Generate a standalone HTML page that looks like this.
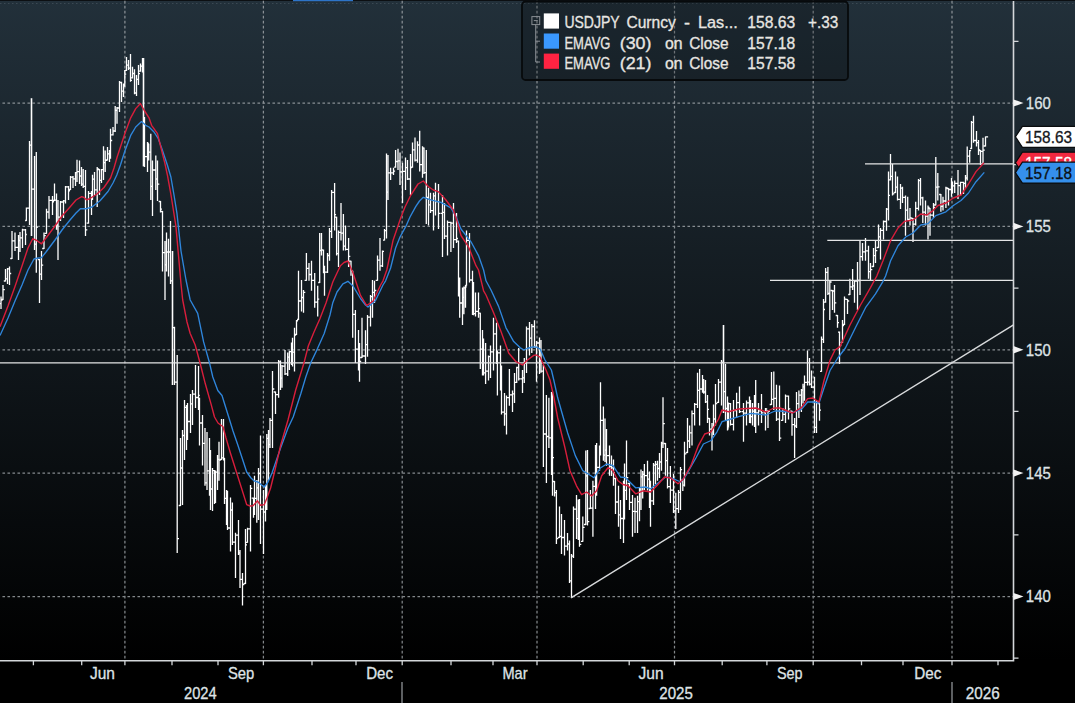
<!DOCTYPE html><html><head><meta charset="utf-8"><title>USDJPY</title>
<style>html,body{margin:0;padding:0;background:#000;overflow:hidden}svg{display:block}text{font-family:"Liberation Sans",sans-serif;stroke-width:0.3px;}</style></head><body>
<svg width="1075" height="703" viewBox="0 0 1075 703">
<defs><linearGradient id="bg" x1="0" y1="0" x2="0" y2="1"><stop offset="0" stop-color="#22303a"/><stop offset="0.94" stop-color="#000000"/><stop offset="1" stop-color="#000"/></linearGradient></defs>
<rect x="0" y="0" width="1075" height="703" fill="url(#bg)"/>
<rect x="0" y="660.8" width="1075" height="42.200000000000045" fill="#000"/>
<rect x="0" y="0" width="1075" height="1" fill="#0c0f12"/>
<rect x="293" y="0" width="60" height="1.2" fill="#2d74c8"/>
<path d="M0 3.5H1075" stroke="#5a6872" stroke-width="1" stroke-dasharray="1.5 2.5" opacity="0.45"/>
<g stroke="#a4a9ad" stroke-width="1.25" stroke-dasharray="2.6 2.4" fill="none" opacity="0.8">
<path d="M124.9 0.8V660.8"/>
<path d="M263.4 0.8V660.8"/>
<path d="M402.2 0.8V660.8"/>
<path d="M537.0 0.8V660.8"/>
<path d="M674.5 0.8V660.8"/>
<path d="M813.2 0.8V660.8"/>
<path d="M952.0 0.8V660.8"/>
<path d="M-2.55 103.0H1013.5"/>
<path d="M-2.55 226.4H1013.5"/>
<path d="M-2.55 349.8H1013.5"/>
<path d="M-2.55 473.1H1013.5"/>
<path d="M-2.55 596.5H1013.5"/>
</g>
<g stroke="#ffffff" stroke-width="1.3" fill="none">
<path d="M31.5 98.2V236.0" stroke-width="1.6"/>
<path d="M143.5 58.0V166.4" stroke-width="1.6"/>
<path d="M172.5 251.0V385.0" stroke-width="1.6"/>
<path d="M723.5 325.0V413.0" stroke-width="1.6"/>
<path d="M1.0 296.6V309.0M-0.6 303.7H1.0M1.0 300.0H2.5M3.0 285.0V300.0M1.5 299.5H3.0M3.0 289.6H4.8M5.5 269.0V281.5M3.8 281.0H5.5M5.5 278.9H7.0M7.5 268.0V284.0M6.0 278.9H7.5M7.5 268.8H9.0M9.5 266.5V285.0M8.0 268.8H9.5M9.5 273.5H11.2M12.0 231.0V259.0M10.2 258.5H12.0M12.0 240.8H13.8M15.0 232.5V251.0M13.2 240.8H15.0M15.0 247.3H16.8M18.5 235.0V260.0M16.7 247.3H18.5M18.5 240.5H19.8M20.0 232.0V252.0M18.7 240.5H20.0M20.0 237.9H21.8M22.5 228.8V248.0M20.8 237.9H22.5M22.5 229.8H24.3M25.5 229.0V245.0M23.7 229.8H25.5M25.5 234.5H26.8M26.4 207.4V221.0M25.1 220.5H26.4M26.4 208.1H28.2M29.5 141.0V225.0M27.7 208.1H29.5M29.5 145.2H31.0M30.0 145.2H31.5M31.5 189.1H33.3M34.5 156.0V250.0M32.7 189.1H34.5M34.5 244.1H35.9M36.3 152.0V272.7M34.9 244.1H36.3M36.3 227.2H38.1M39.5 259.0V303.0M37.7 259.5H39.5M39.5 274.1H41.0M41.5 251.0V280.0M40.0 274.1H41.5M41.5 265.1H43.2M44.0 232.5V249.0M42.2 248.5H44.0M44.0 235.7H45.8M46.5 208.7V233.8M44.8 233.3H46.5M46.5 212.0H48.2M49.0 196.0V218.7M47.2 212.0H49.0M49.0 200.3H50.8M52.5 196.0V215.0M50.7 200.3H52.5M52.5 201.9H54.0M54.5 183.5V201.0M53.0 200.5H54.5M54.5 200.1H56.0M56.5 193.4V229.7M55.0 200.1H56.5M56.5 225.0H57.8M58.0 200.0V260.0M56.7 225.0H58.0M58.0 217.1H59.8M60.5 201.0V221.0M58.8 217.1H60.5M60.5 202.0H62.3M63.5 200.0V218.0M61.7 202.0H63.5M63.5 200.9H65.0M65.5 186.0V203.6M64.0 200.9H65.5M65.5 186.9H67.3M68.5 186.0V200.0M66.7 186.9H68.5M68.5 190.8H70.0M70.5 176.0V190.0M69.0 189.5H70.5M70.5 177.2H72.2M73.0 176.0V188.0M71.2 177.2H73.0M73.0 178.9H74.8M75.5 172.0V186.0M73.8 178.9H75.5M75.5 172.7H76.8M77.0 159.7V182.0M75.7 172.7H77.0M77.0 171.7H78.8M79.5 160.5V184.0M77.8 171.7H79.5M79.5 176.0H81.0M81.5 167.0V186.0M80.0 176.0H81.5M81.5 184.2H82.9M83.2 169.0V188.0M81.8 184.2H83.2M83.2 186.4H84.9M85.5 170.0V236.0M83.8 186.4H85.5M85.5 229.8H87.3M88.5 191.0V223.7M86.7 223.2H88.5M88.5 193.4H90.3M91.5 191.0V215.0M89.7 193.4H91.5M91.5 196.0H92.8M92.5 174.7V200.0M91.2 196.0H92.5M92.5 179.2H94.0M94.5 172.0V195.0M93.0 179.2H94.5M94.5 189.9H96.3M97.2 167.0V207.0M95.4 189.9H97.2M97.2 169.0H98.9M99.5 169.0V195.0M97.8 169.5H99.5M99.5 180.3H101.0M101.5 169.0V183.0M100.0 180.3H101.5M101.5 169.7H103.0M103.5 146.3V180.0M102.0 169.7H103.5M103.5 162.7H104.9M105.2 150.5V172.0M103.8 162.7H105.2M105.2 160.4H106.9M107.5 147.0V160.5M105.8 160.0H107.5M107.5 153.9H109.0M109.5 150.0V162.0M108.0 153.9H109.5M109.5 152.1H110.8M110.5 128.7V158.8M109.2 152.1H110.5M110.5 140.5H112.2M113.0 127.0V135.4M111.2 134.9H113.0M113.0 131.0H114.6M115.2 106.0V132.0M113.6 131.0H115.2M115.2 110.4H116.6M117.0 107.0V123.7M115.6 110.4H117.0M117.0 108.0H118.8M119.5 81.0V112.0M117.8 108.0H119.5M119.5 82.5H121.0M121.5 81.8V101.9M120.0 82.5H121.5M121.5 91.2H123.0M123.5 83.5V96.9M122.0 91.2H123.5M123.5 84.2H124.8M124.8 70.0V86.8M123.5 84.2H124.8M124.8 74.2H126.2M126.5 57.0V70.9M125.1 70.4H126.5M126.5 65.1H128.0M128.5 60.0V70.0M127.0 65.1H128.5M128.5 68.1H130.0M130.5 54.0V81.8M129.0 68.1H130.5M130.5 80.4H132.0M132.5 66.7V78.4M131.0 77.9H132.5M132.5 73.5H134.0M134.5 69.2V94.3M133.0 73.5H134.5M134.5 93.0H136.0M136.5 75.0V96.0M135.0 93.0H136.5M136.5 79.3H138.0M138.5 65.0V85.0M137.0 79.3H138.5M138.5 73.6H140.0M140.5 63.4V71.7M139.0 71.2H140.5M140.5 66.1H142.0M142.5 58.0V72.6M141.0 66.1H142.5M142.5 67.3H143.8M142.2 67.3H143.5M143.5 161.0H144.8M144.5 117.0V167.0M143.2 161.0H144.5M144.5 156.6H146.3M147.5 142.0V172.0M145.7 156.6H147.5M147.5 143.5H148.8M148.7 143.8V160.5M147.4 144.3H148.7M148.7 152.2H150.2M150.8 133.7V200.0M149.2 152.2H150.8M150.8 186.4H152.2M152.5 160.5V216.0M151.2 186.4H152.5M152.5 170.0H154.3M155.8 155.5V190.0M154.0 170.0H155.8M155.8 179.0H157.2M157.5 160.5V201.0M156.2 179.0H157.5M157.5 184.2H159.3M160.5 201.0V212.4M158.7 201.5H160.5M160.5 209.1H162.0M162.5 211.0V271.5M161.0 211.5H162.5M162.5 252.7H164.2M165.0 241.0V300.0M163.2 252.7H165.0M165.0 264.8H166.3M166.5 232.5V271.5M165.2 264.8H166.5M166.5 252.0H168.0M168.5 238.8V276.5M167.0 252.0H168.5M168.5 252.0H170.0M170.5 221.0V284.0M169.0 252.0H170.5M170.5 280.9H172.0M171.0 280.9H172.5M172.5 327.7H174.0M174.5 326.8V385.0M173.0 327.7H174.5M174.5 382.1H176.3M177.2 355.0V552.9M175.4 382.1H177.2M177.2 538.6H179.0M180.5 438.0V506.0M178.7 505.5H180.5M180.5 468.0H182.0M182.5 430.0V505.0M181.0 468.0H182.5M182.5 435.5H184.0M184.5 400.0V460.0M183.0 435.5H184.5M184.5 407.4H186.0M186.5 405.0V450.0M185.0 407.4H186.5M186.5 411.1H187.8M187.5 403.0V440.0M186.2 411.1H187.5M187.5 421.5H189.3M190.5 394.0V433.0M188.7 421.5H190.5M190.5 403.9H192.0M192.5 390.0V425.0M191.0 403.9H192.5M192.5 394.1H194.3M195.5 365.0V408.0M193.7 394.1H195.5M195.5 397.5H197.3M198.5 366.0V410.0M196.7 397.5H198.5M198.5 395.3H199.8M199.5 397.8V445.5M198.2 398.3H199.5M199.5 423.0H201.3M202.5 415.0V465.6M200.7 423.0H202.5M202.5 443.4H204.2M205.0 428.0V485.7M203.2 443.4H205.0M205.0 482.8H206.5M207.0 432.0V490.0M205.5 482.8H207.0M207.0 470.9H208.8M209.5 438.0V495.8M207.8 470.9H209.5M209.5 492.9H210.8M210.5 450.0V510.0M209.2 492.9H210.5M210.5 489.0H212.0M212.5 468.0V511.0M211.0 489.0H212.5M212.5 470.6H214.0M214.5 470.0V504.0M213.0 470.6H214.5M214.5 477.0H215.8M215.5 470.6V503.0M214.2 477.0H215.5M215.5 472.2H217.0M217.5 455.0V490.0M216.0 472.2H217.5M217.5 459.3H218.8M219.0 441.8V480.7M217.7 459.3H219.0M219.0 460.2H220.8M221.5 419.0V460.0M219.8 459.5H221.5M221.5 457.9H223.0M223.5 419.0V460.6M222.0 457.9H223.5M223.5 458.5H224.8M224.5 458.0V504.0M223.2 458.5H224.5M224.5 498.4H226.0M226.5 490.0V525.0M225.0 498.4H226.5M226.5 523.2H227.8M227.5 490.8V530.0M226.2 523.2H227.5M227.5 528.0H229.3M230.5 497.6V551.6M228.7 528.0H230.5M230.5 510.0H232.0M232.4 502.6V545.0M230.9 510.0H232.4M232.4 542.1H234.2M235.5 532.8V578.0M233.7 542.1H235.5M235.5 535.1H237.3M238.5 520.0V555.0M236.7 535.1H238.5M238.5 552.9H239.8M240.0 550.0V588.0M238.7 552.9H240.0M240.0 579.3H241.8M242.5 573.0V605.6M240.8 579.3H242.5M242.5 584.5H244.3M245.5 529.0V584.0M243.7 583.5H245.5M245.5 544.8H247.0M247.5 527.7V542.8M246.0 542.3H247.5M247.5 528.8H249.3M250.5 485.0V551.6M248.7 528.8H250.5M250.5 488.3H252.3M253.5 497.6V517.7M251.7 498.1H253.5M253.5 506.8H254.8M254.5 475.7V515.0M253.2 506.8H254.5M254.5 498.4H256.1M256.8 480.0V522.7M255.2 498.4H256.8M256.8 487.8H258.1M258.5 468.0V520.0M257.2 487.8H258.5M258.5 473.5H260.0M260.5 435.5V544.0M259.0 473.5H260.5M260.5 509.1H262.3M263.5 490.0V554.0M261.7 509.1H263.5M263.5 512.0H265.0M265.5 485.0V521.5M264.0 512.0H265.5M265.5 502.7H266.8M266.8 434.0V510.0M265.5 502.7H266.8M266.8 438.3H268.1M268.5 430.0V480.0M267.2 438.3H268.5M268.5 444.7H269.8M270.0 418.0V448.0M268.7 444.7H270.0M270.0 420.4H271.8M272.5 371.0V448.0M270.8 420.4H272.5M272.5 389.0H274.3M275.5 391.5V414.0M273.7 392.0H275.5M275.5 394.6H277.3M278.6 360.0V397.8M276.8 394.6H278.6M278.6 361.9H280.1M280.5 360.5V390.0M279.1 361.9H280.5M280.5 378.1H281.8M282.0 365.0V387.7M280.7 378.1H282.0M282.0 366.1H283.8M285.0 350.0V375.0M283.2 366.1H285.0M285.0 373.8H286.8M287.7 352.5V376.0M285.9 373.8H287.7M287.7 357.2H289.0M289.4 350.8V370.1M288.0 357.2H289.4M289.4 351.7H290.9M291.5 342.5V365.0M289.9 351.7H291.5M291.5 352.5H292.8M292.5 337.8V366.5M291.2 352.5H292.5M292.5 352.1H294.0M294.5 327.8V371.6M293.0 352.1H294.5M294.5 335.2H296.0M296.5 320.0V335.0M295.0 334.5H296.5M296.5 320.8H298.0M298.5 270.7V320.0M297.0 319.5H298.5M298.5 301.0H300.3M301.5 280.0V311.5M299.7 301.0H301.5M301.5 297.5H303.0M303.5 290.0V312.7M302.0 297.5H303.5M303.5 292.4H305.3M306.4 253.0V280.8M304.6 280.3H306.4M306.4 268.4H308.2M309.0 263.0V280.8M307.2 268.4H309.0M309.0 274.5H310.8M311.5 260.7V290.8M309.8 274.5H311.5M311.5 280.4H313.3M314.7 273.0V307.7M312.9 280.4H314.7M314.7 302.2H316.5M317.7 285.8V316.5M315.9 302.2H317.7M317.7 299.1H319.2M319.7 233.0V283.0M318.2 282.5H319.7M319.7 250.5H321.1M321.5 233.0V255.6M320.1 250.5H321.5M321.5 249.9H323.0M323.5 249.6V273.2M322.0 250.1H323.5M323.5 267.2H324.8M324.5 265.7V295.8M323.2 267.2H324.5M324.5 272.2H326.3M327.5 253.0V273.0M325.7 272.2H327.5M327.5 255.5H329.0M329.5 228.0V260.7M328.0 255.5H329.5M329.5 231.4H331.1M331.6 190.0V238.0M330.1 231.4H331.6M331.6 192.4H333.4M334.6 183.0V230.5M332.8 192.4H334.6M334.6 214.7H336.1M336.6 216.7V255.6M335.1 217.2H336.6M336.6 253.7H338.1M338.5 230.5V267.0M337.1 253.7H338.5M338.5 232.3H340.2M341.0 203.0V240.6M339.2 232.3H341.0M341.0 233.2H342.7M343.4 214.0V250.6M341.7 233.2H343.4M343.4 246.1H344.9M345.5 225.5V250.6M343.9 246.1H345.5M345.5 249.3H347.3M348.6 238.0V267.0M346.8 249.3H348.6M348.6 256.3H350.3M351.0 260.7V275.7M349.3 261.2H351.0M351.0 270.6H352.3M352.7 270.7V337.8M351.4 271.2H352.7M352.7 314.3H354.5M355.4 310.0V363.0M353.6 314.3H355.4M355.4 349.2H357.2M358.5 330.0V370.5M356.7 349.2H358.5M358.5 361.1H359.8M359.5 343.0V381.8M358.2 361.1H359.5M359.5 361.3H361.2M362.0 317.7V358.0M360.2 357.5H362.0M362.0 356.0H363.8M365.5 330.3V364.0M363.7 356.0H365.5M365.5 344.6H367.0M367.5 315.0V356.7M366.0 344.6H367.5M367.5 317.1H369.3M370.5 295.0V326.5M368.7 317.1H370.5M370.5 296.6H372.0M372.5 280.0V317.7M371.0 296.6H372.5M372.5 292.3H374.0M374.5 280.8V303.0M373.0 292.3H374.5M374.5 290.5H376.3M377.5 255.6V280.8M375.7 280.3H377.5M377.5 260.2H379.2M380.0 238.0V270.7M378.2 260.2H380.0M380.0 265.9H381.8M382.5 250.6V267.0M380.8 265.9H382.5M382.5 251.4H384.0M384.5 229.0V240.6M383.0 240.1H384.5M384.5 230.6H386.0M386.5 153.4V238.5M385.0 230.6H386.5M386.5 192.2H387.8M388.0 155.0V200.0M386.7 192.2H388.0M388.0 172.8H389.8M390.6 167.7V180.0M388.8 172.8H390.6M390.6 172.8H392.4M393.5 167.7V175.0M391.7 172.8H393.5M393.5 171.2H395.1M395.6 150.0V167.7M394.1 167.2H395.6M395.6 161.5H397.3M398.0 148.8V170.0M396.3 161.5H398.0M398.0 160.8H399.5M400.0 152.6V185.0M398.5 160.8H400.0M400.0 171.8H401.8M402.5 162.7V203.0M400.8 171.8H402.5M402.5 171.3H404.3M405.5 157.6V190.0M403.7 171.3H405.5M405.5 167.6H407.0M407.5 160.0V180.0M406.0 167.6H407.5M407.5 179.0H409.3M410.5 153.9V195.0M408.7 179.0H410.5M410.5 167.6H412.0M412.5 142.6V167.7M411.0 167.2H412.5M412.5 149.8H414.2M415.0 137.5V161.4M413.2 149.8H415.0M415.0 160.2H416.8M417.5 141.3V162.7M415.8 160.2H417.5M417.5 145.0H419.1M419.7 130.8V171.5M418.1 145.0H419.7M419.7 164.6H421.5M422.5 146.3V177.7M420.7 164.6H422.5M422.5 147.9H423.8M424.0 147.6V174.0M422.7 148.1H424.0M424.0 172.7H425.6M426.3 150.0V224.0M424.7 172.7H426.3M426.3 197.3H427.9M428.5 187.8V225.5M426.9 197.3H428.5M428.5 204.8H430.0M430.5 192.8V213.0M429.0 204.8H430.5M430.5 210.7H432.3M433.5 192.8V230.5M431.7 210.7H433.5M433.5 195.9H435.0M435.5 182.8V215.4M434.0 195.9H435.5M435.5 201.6H437.3M438.5 184.0V229.0M436.7 201.6H438.5M438.5 213.3H440.3M442.5 195.0V256.9M440.7 213.3H442.5M442.5 212.4H444.0M444.5 203.0V239.0M443.0 212.4H444.5M444.5 236.1H446.3M447.5 220.5V255.6M445.7 236.1H447.5M447.5 222.3H449.3M450.9 221.7V251.9M449.1 222.3H450.9M450.9 223.2H452.7M453.5 203.0V248.0M451.7 223.2H453.5M453.5 239.7H455.3M456.5 213.0V243.0M454.7 239.7H456.5M456.5 238.5H458.0M458.5 240.6V296.4M457.0 241.1H458.5M458.5 281.5H459.8M459.7 277.5V317.7M458.4 281.5H459.7M459.7 303.0H461.5M462.5 287.6V325.0M460.7 303.0H462.5M462.5 297.3H463.8M463.9 286.5V314.2M462.6 297.3H463.9M463.9 287.9H465.2M465.5 285.0V307.7M464.2 287.9H465.5M465.5 286.8H466.8M466.5 230.5V285.8M465.2 285.3H466.5M466.5 240.3H468.3M469.5 233.0V282.5M467.7 240.3H469.5M469.5 280.0H471.3M472.5 270.7V315.0M470.7 280.0H472.5M472.5 310.0H473.8M473.5 282.0V315.3M472.2 310.0H473.5M473.5 313.6H475.0M475.5 292.6V316.5M474.0 313.6H475.5M475.5 311.4H477.3M478.5 292.6V317.7M476.7 311.4H478.5M478.5 308.7H479.9M480.3 312.7V369.0M478.9 313.2H480.3M480.3 349.2H481.9M482.5 330.0V375.5M480.9 349.2H482.5M482.5 373.2H483.8M483.5 338.6V375.6M482.2 373.2H483.5M483.5 372.8H485.1M485.6 343.0V384.0M484.1 372.8H485.6M485.6 371.1H487.4M488.5 355.4V380.5M486.7 371.1H488.5M488.5 356.7H490.0M490.5 345.4V378.0M489.0 356.7H490.5M490.5 351.9H492.3M493.5 317.7V370.5M491.7 351.9H493.5M493.5 333.8H495.3M496.5 322.8V364.0M494.7 333.8H496.5M496.5 353.8H497.8M497.4 350.4V395.6M496.1 353.8H497.4M497.4 352.9H499.2M500.5 345.4V390.6M498.7 352.9H500.5M500.5 386.1H501.8M501.5 365.5V414.5M500.2 386.1H501.5M501.5 412.1H503.3M504.5 393.0V425.8M502.7 412.1H504.5M504.5 413.9H506.0M506.5 395.6V434.6M505.0 413.9H506.5M506.5 397.6H508.3M509.4 369.0V405.7M507.6 397.6H509.4M509.4 394.8H511.2M512.5 390.6V412.0M510.7 394.8H512.5M512.5 393.9H514.0M514.5 373.0V403.0M513.0 393.9H514.5M514.5 382.3H516.1M516.7 366.7V383.0M515.1 382.3H516.7M516.7 367.5H518.2M518.7 347.9V380.5M517.2 367.5H518.7M518.7 378.9H520.5M522.5 370.0V393.0M520.7 378.9H522.5M522.5 377.9H523.9M524.3 358.0V383.0M522.9 377.9H524.3M524.3 363.1H525.9M526.5 326.5V373.0M524.9 363.1H526.5M526.5 328.8H528.3M529.5 322.0V355.4M527.7 328.8H529.5M529.5 338.1H531.1M531.8 324.0V353.0M530.1 338.1H531.8M531.8 326.5H533.6M534.5 320.3V347.9M532.7 326.5H534.5M534.5 346.5H536.0M536.5 341.0V381.8M535.0 346.5H536.5M536.5 343.0H538.3M539.5 337.5V374.0M537.7 343.0H539.5M539.5 360.6H540.8M541.0 340.0V372.7M539.7 360.6H541.0M541.0 371.1H542.7M543.4 365.0V467.0M541.7 371.1H543.4M543.4 434.0H545.2M546.4 395.0V483.0M544.6 434.0H546.4M546.4 436.5H548.1M548.9 397.8V448.0M547.1 436.5H548.9M548.9 437.8H550.7M551.5 392.0V475.0M549.7 437.8H551.5M551.5 442.8H552.8M552.5 391.6V495.8M551.2 442.8H552.5M552.5 457.7H554.0M554.5 481.0V496.5M553.0 481.5H554.5M554.5 492.6H555.9M556.4 490.0V544.0M555.0 492.6H556.4M556.4 538.6H558.2M559.5 506.6V538.0M557.7 537.5H559.5M559.5 536.4H561.0M561.5 514.0V554.0M560.0 536.4H561.5M561.5 537.5H563.3M564.5 520.0V555.6M562.7 537.5H564.5M564.5 546.2H566.3M567.5 533.0V550.5M565.7 546.2H567.5M567.5 544.0H569.0M569.5 540.5V583.0M568.0 544.0H569.5M569.5 580.9H571.0M571.5 554.0V597.8M570.0 580.9H571.5M571.5 556.2H573.0M573.5 506.6V558.0M572.0 556.2H573.5M573.5 509.2H575.3M576.5 495.0V539.0M574.7 509.2H576.5M576.5 518.6H577.9M578.3 499.6V540.0M576.9 518.6H578.3M578.3 529.3H579.6M579.5 499.0V546.8M578.2 529.3H579.5M579.5 544.4H581.3M582.8 516.6V541.8M581.0 541.3H582.8M582.8 527.4H584.6M585.8 450.6V525.0M584.0 524.5H585.8M585.8 475.9H587.1M587.5 450.0V525.4M586.1 475.9H587.5M587.5 521.6H589.3M590.4 490.0V509.0M588.6 508.5H590.4M590.4 508.1H592.1M592.9 480.8V536.7M591.1 508.1H592.9M592.9 486.3H594.7M595.5 445.0V509.0M593.7 486.3H595.5M595.5 448.2H596.8M596.6 443.0V495.8M595.3 448.2H596.6M596.6 467.4H598.4M599.5 445.6V470.7M597.7 467.4H599.5M599.5 454.3H600.8M600.5 382.3V455.6M599.2 454.3H600.5M600.5 420.4H602.3M603.4 406.6V460.7M601.6 420.4H603.4M603.4 455.2H604.7M605.0 418.4V462.1M603.7 455.2H605.0M605.0 450.2H606.3M606.5 429.0V465.7M605.2 450.2H606.5M606.5 455.6H608.3M609.5 445.6V475.7M607.7 455.6H609.5M609.5 466.6H611.0M611.5 455.6V476.0M610.0 466.6H611.5M611.5 467.9H613.0M613.5 459.4V485.8M612.0 467.9H613.5M613.5 472.6H615.0M615.5 478.0V514.0M614.0 478.5H615.5M615.5 502.0H617.3M618.5 485.8V526.7M616.7 502.0H618.5M618.5 514.9H620.0M620.5 500.0V539.0M619.0 514.9H620.5M620.5 518.5H622.3M623.5 480.8V543.0M621.7 518.5H623.5M623.5 483.9H624.8M624.5 463.5V519.5M623.2 483.9H624.5M624.5 490.3H626.0M626.5 440.5V500.0M625.0 490.3H626.5M626.5 477.7H628.3M629.5 483.0V510.0M627.7 483.5H629.5M629.5 502.3H631.3M632.5 495.0V536.7M630.7 502.3H632.5M632.5 511.4H634.2M635.0 497.8V533.0M633.2 511.4H635.0M635.0 511.6H636.8M637.5 495.8V533.0M635.8 511.6H637.5M637.5 501.7H639.0M639.5 487.5V521.3M638.0 501.7H639.5M639.5 489.2H640.8M641.0 469.4V510.0M639.7 489.2H641.0M641.0 476.9H642.4M642.7 471.0V498.6M641.4 476.9H642.7M642.7 474.4H644.0M644.4 464.0V490.0M643.1 474.4H644.4M644.4 475.7H646.2M647.5 460.7V490.5M645.7 475.7H647.5M647.5 479.1H649.0M649.5 471.5V508.0M648.0 479.1H649.5M649.5 497.7H650.8M650.5 480.8V526.7M649.2 497.7H650.5M650.5 500.9H652.3M653.5 463.0V505.0M651.7 500.9H653.5M653.5 465.1H655.0M655.5 461.0V484.0M654.0 465.1H655.5M655.5 464.4H657.0M657.5 460.7V480.8M656.0 464.4H657.5M657.5 468.5H659.0M659.5 453.0V478.0M658.0 468.5H659.5M659.5 462.0H661.0M661.5 441.8V470.7M660.0 462.0H661.5M661.5 443.2H662.8M663.0 397.3V448.0M661.7 443.2H663.0M663.0 423.7H664.8M665.5 443.0V475.7M663.8 443.5H665.5M665.5 460.6H667.0M667.5 448.0V488.6M666.0 460.6H667.5M667.5 486.6H669.3M670.4 466.0V503.0M668.6 486.6H670.4M670.4 490.2H672.2M673.5 474.0V512.9M671.7 490.2H673.5M673.5 510.9H675.1M675.8 492.8V529.0M674.1 510.9H675.8M675.8 508.7H677.6M678.5 490.0V512.9M676.7 508.7H678.5M678.5 492.4H680.0M680.5 467.0V510.0M679.0 492.4H680.5M680.5 469.7H682.1M682.8 480.0V491.0M681.1 480.5H682.8M682.8 485.2H684.1M684.5 441.8V486.5M683.1 485.2H684.5M684.5 453.9H686.3M687.5 418.0V453.0M685.7 452.5H687.5M687.5 441.0H689.0M689.6 425.5V448.0M688.1 441.0H689.6M689.6 432.9H691.3M692.0 410.4V445.6M690.3 432.9H692.0M692.0 413.6H693.8M694.6 402.9V425.5M692.8 413.6H694.6M694.6 404.4H696.4M697.5 372.7V407.9M695.7 404.4H697.5M697.5 390.4H699.0M699.6 369.0V425.5M698.1 390.4H699.6M699.6 389.0H701.4M702.5 375.0V392.8M700.7 389.0H702.5M702.5 391.9H703.8M703.7 379.0V393.8M702.4 391.9H703.7M703.7 392.0H705.1M705.5 380.0V402.9M704.1 392.0H705.5M705.5 401.8H707.0M707.5 395.0V423.0M706.0 401.8H707.5M707.5 409.4H709.0M709.5 418.0V435.5M708.0 418.5H709.5M709.5 429.2H711.2M712.0 423.0V450.6M710.2 429.2H712.0M712.0 428.1H713.3M713.5 404.4V435.1M712.2 428.1H713.5M713.5 419.0H715.0M715.5 384.0V425.5M714.0 419.0H715.5M715.5 403.6H717.3M718.5 379.0V402.9M716.7 402.4H718.5M718.5 382.2H720.3M721.5 360.0V405.4M719.7 382.2H721.5M721.5 362.3H723.0M722.0 362.3H723.5M723.5 391.7H725.0M725.5 364.0V419.9M724.0 391.7H725.5M725.5 408.5H727.0M727.5 396.6V430.5M726.0 408.5H727.5M727.5 428.8H728.8M728.5 402.5V427.7M727.2 427.2H728.5M728.5 403.7H730.0M730.5 402.9V425.5M729.0 403.7H730.5M730.5 424.4H732.3M733.5 400.0V430.5M731.7 424.4H733.5M733.5 410.5H735.3M736.6 392.8V418.0M734.8 410.5H736.6M736.6 402.7H738.4M739.5 386.5V413.0M737.7 402.7H739.5M739.5 411.7H741.3M743.5 402.9V441.8M741.7 411.7H743.5M743.5 413.2H745.3M746.5 400.4V425.5M744.7 413.2H746.5M746.5 402.8H748.3M749.5 396.6V423.0M747.7 402.8H749.5M749.5 414.9H750.8M750.5 400.0V423.2M749.2 414.9H750.5M750.5 416.7H752.0M752.5 402.9V425.5M751.0 416.7H752.5M752.5 411.2H754.0M754.5 394.9V427.1M753.0 411.2H754.5M754.5 396.5H755.8M755.7 380.0V433.0M754.4 396.5H755.7M755.7 412.8H757.5M758.5 402.9V425.5M756.7 412.8H758.5M758.5 410.8H760.3M761.5 394.0V423.0M759.7 410.8H761.5M761.5 412.8H763.3M765.5 407.9V430.5M763.7 412.8H765.5M765.5 409.0H767.2M768.0 410.4V428.0M766.2 410.9H768.0M768.0 411.3H769.8M771.5 372.0V405.0M769.7 404.5H771.5M771.5 399.4H773.1M773.8 371.6V410.0M772.1 399.4H773.8M773.8 398.3H775.6M776.5 384.8V421.0M774.7 398.3H776.5M776.5 419.2H778.3M779.5 385.6V440.9M777.7 419.2H779.5M779.5 438.1H781.3M782.8 408.0V420.8M781.0 420.3H782.8M782.8 414.3H784.6M785.5 394.4V423.0M783.7 414.3H785.5M785.5 396.1H787.3M788.5 395.6V419.5M786.7 396.1H788.5M788.5 408.8H790.3M792.0 410.7V435.8M790.2 411.2H792.0M792.0 424.7H793.8M794.6 418.0V458.0M792.8 424.7H794.6M794.6 426.0H796.0M796.5 391.9V428.0M795.1 426.0H796.5M796.5 403.7H798.2M798.9 390.6V418.0M797.2 403.7H798.9M798.9 395.2H800.6M801.4 389.0V412.0M799.6 395.2H801.4M801.4 390.1H802.7M803.0 383.8V403.4M801.7 390.1H803.0M803.0 386.8H804.3M804.5 375.5V400.7M803.2 386.8H804.5M804.5 382.4H806.3M807.5 350.4V385.6M805.7 382.4H807.5M807.5 382.2H809.0M809.5 358.0V385.6M808.0 382.2H809.5M809.5 384.2H811.0M811.5 370.5V388.0M810.0 384.2H811.5M811.5 387.1H813.3M814.5 376.8V433.0M812.7 387.1H814.5M814.5 427.3H816.0M816.5 400.7V433.0M815.0 427.3H816.5M816.5 402.3H818.3M819.5 403.0V420.8M817.7 403.5H819.5M819.5 410.2H821.0M821.5 336.6V371.8M820.0 371.3H821.5M821.5 339.3H823.0M823.5 298.9V342.9M822.0 339.3H823.5M823.5 309.5H825.0M825.6 268.0V302.7M824.1 302.2H825.6M825.6 272.3H827.2M827.9 267.0V295.0M826.2 272.3H827.9M827.9 293.4H829.3M829.8 280.0V320.0M828.4 293.4H829.8M829.8 282.0H831.6M832.5 290.0V310.0M830.7 290.5H832.5M832.5 291.0H834.0M834.5 285.0V312.7M833.0 291.0H834.5M834.5 302.9H836.3M837.5 315.0V327.8M835.7 315.5H837.5M837.5 322.6H839.0M839.5 331.6V364.0M838.0 332.1H839.5M839.5 345.5H841.3M842.5 320.0V342.9M840.7 342.4H842.5M842.5 325.7H844.0M844.5 296.4V325.0M843.0 324.5H844.5M844.5 299.1H846.3M847.5 298.9V314.0M845.7 299.4H847.5M847.5 301.0H849.2M849.9 278.8V295.0M848.2 294.5H849.9M849.9 286.8H851.7M852.6 269.0V290.0M850.8 286.8H852.6M852.6 285.9H854.0M854.5 280.0V302.7M853.1 285.9H854.5M854.5 281.1H856.3M857.5 262.0V310.0M855.7 281.1H857.5M857.5 280.5H859.2M860.0 240.7V295.0M858.2 280.5H860.0M860.0 256.6H861.8M862.5 243.0V260.8M860.8 256.6H862.5M862.5 251.8H864.3M865.5 238.0V260.8M863.7 251.8H865.5M865.5 250.8H867.3M868.5 245.7V278.8M866.7 250.8H868.5M868.5 271.7H870.0M870.5 263.0V280.0M869.0 271.7H870.5M870.5 269.7H872.3M873.5 248.0V267.0M871.7 266.5H873.5M873.5 255.7H875.0M875.5 240.7V263.0M874.0 255.7H875.5M875.5 250.7H877.3M878.5 224.4V248.0M876.7 247.5H878.5M878.5 236.8H880.0M880.5 228.0V259.5M879.0 236.8H880.5M880.5 230.4H882.3M883.5 220.6V239.4M881.7 230.4H883.5M883.5 221.5H885.3M886.5 208.0V230.7M884.7 221.5H886.5M886.5 209.1H888.0M888.5 171.6V220.6M887.0 209.1H888.5M888.5 195.3H890.0M890.5 154.0V180.4M889.0 179.9H890.5M890.5 176.4H892.0M892.5 164.0V195.5M891.0 176.4H892.5M892.5 193.9H894.3M895.5 171.6V193.0M893.7 192.5H895.5M895.5 187.1H897.0M897.5 176.6V200.5M896.0 187.1H897.5M897.5 199.3H899.3M900.5 184.0V209.0M898.7 199.3H900.5M900.5 188.2H902.0M902.5 186.7V203.0M901.0 188.2H902.5M902.5 197.4H904.3M905.5 195.5V235.7M903.7 197.4H905.5M905.5 210.2H907.1M907.7 196.7V220.6M906.1 210.2H907.7M907.7 219.4H909.4M910.0 208.0V225.6M908.4 219.4H910.0M910.0 217.9H911.8M913.0 218.0V242.0M911.2 218.5H913.0M913.0 224.2H914.8M915.7 201.8V225.6M913.9 224.2H915.7M915.7 208.3H917.5M918.5 179.0V210.6M916.7 208.3H918.5M918.5 180.6H920.0M920.5 177.9V205.5M919.0 180.6H920.5M920.5 197.8H922.1M922.8 196.7V223.0M921.1 197.8H922.8M922.8 212.1H924.6M925.5 200.5V225.6M923.7 212.1H925.5M925.5 216.1H927.2M928.0 205.5V239.4M926.2 216.1H928.0M928.0 207.3H929.5M930.0 208.0V235.7M928.5 208.5H930.0M930.0 215.2H931.8M933.5 203.0V218.0M931.7 215.2H933.5M933.5 207.4H935.1M935.8 157.0V205.5M934.1 205.0H935.8M935.8 187.2H937.3M937.8 172.9V200.5M936.3 187.2H937.8M937.8 186.9H939.6M940.9 194.0V211.8M939.1 194.5H940.9M940.9 206.4H942.4M943.0 196.7V210.6M941.5 206.4H943.0M943.0 201.0H944.8M945.9 186.7V208.0M944.1 201.0H945.9M945.9 187.8H947.7M948.5 188.0V205.5M946.7 188.5H948.5M948.5 189.5H950.3M951.5 178.0V196.7M949.7 189.5H951.5M951.5 189.6H952.8M952.5 181.5V193.4M951.2 189.6H952.5M952.5 185.9H954.1M954.7 180.4V193.0M953.1 185.9H954.7M954.7 183.3H956.5M958.0 170.0V199.0M956.2 183.3H958.0M958.0 185.6H959.8M960.5 181.7V195.5M958.8 185.6H960.5M960.5 182.4H962.3M963.5 181.7V194.0M961.7 182.4H963.5M963.5 183.4H965.0M965.5 175.0V188.0M964.0 183.4H965.5M965.5 178.0H966.9M967.2 146.5V180.4M965.9 178.0H967.2M967.2 156.1H969.0M969.7 150.0V162.8M968.0 156.1H969.7M969.7 150.6H971.1M971.5 121.0V149.0M970.1 148.5H971.5M971.5 122.4H973.0M973.5 115.8V142.7M972.0 122.4H973.5M973.5 140.5H975.3M976.5 131.0V146.5M974.7 140.5H976.5M976.5 142.6H978.0M978.5 140.0V155.0M977.0 142.6H978.5M978.5 150.0H980.0M980.5 150.0V165.0M979.0 150.5H980.5M980.5 151.3H982.2M983.0 137.7V164.0M981.2 151.3H983.0M983.0 150.1H984.8M985.5 136.4V146.5M983.8 146.0H985.5M985.5 136.8H988.1"/>
</g>
<g stroke="#e4e5e6" stroke-width="1.3" fill="none">
<path d="M0 362.8H1013.5"/>
<path d="M865 163.8H1013.5" stroke-width="1.2"/>
<path d="M827.3 240.45H1013.5" stroke-width="1.2"/>
<path d="M770 280.4H1013.5" stroke-width="1.2"/>
<path d="M571 597.8L1013.5 324.8" stroke="#d8dadc" stroke-width="1.4"/>
</g>
<path d="M0.0 335.5L8.0 318.0L15.0 301.0L22.0 285.0L28.0 270.0L34.0 259.0L38.0 258.0L41.5 257.7L46.0 252.0L55.0 240.0L62.0 230.0L70.0 220.0L76.0 213.0L80.4 208.7L86.7 208.7L92.0 207.0L100.0 200.8L108.0 191.5L113.0 183.0L116.8 175.0L120.6 164.5L124.8 151.3L130.7 135.4L135.7 127.0L141.5 121.6L145.7 125.3L149.0 127.0L154.0 132.0L158.3 138.7L162.5 150.5L167.5 165.5L170.9 177.0L174.0 195.0L177.0 213.7L181.0 251.0L186.0 280.0L190.2 300.0L197.7 313.4L203.6 341.9L209.5 362.8L212.8 377.0L217.8 390.5L222.0 395.5L228.7 417.0L233.0 431.0L238.0 445.5L246.7 472.0L251.0 478.0L254.3 481.0L258.0 482.0L261.0 484.5L264.3 487.0L268.0 482.0L272.0 473.0L280.6 448.0L288.0 428.0L293.2 417.0L300.8 393.8L305.8 377.0L310.8 362.8L317.5 348.6L324.2 333.5L330.0 315.0L332.8 302.7L337.0 292.0L342.9 283.8L347.9 281.3L353.0 286.0L360.5 298.5L365.5 305.0L368.0 307.0L375.5 300.5L383.0 285.0L385.6 280.8L390.6 268.0L395.6 248.0L400.0 237.0L405.7 226.7L410.0 217.0L415.7 206.6L419.5 201.0L423.3 197.3L430.8 199.8L440.9 202.4L450.9 207.9L456.0 216.7L461.0 229.0L471.0 241.8L478.5 255.6L483.6 270.0L486.0 280.8L491.0 290.0L498.6 306.4L506.0 327.8L513.7 341.6L520.0 347.6L523.8 350.0L527.0 348.5L532.6 347.0L536.0 347.0L540.0 348.8L545.0 360.0L551.4 370.0L554.0 381.0L557.7 397.8L562.0 413.0L567.7 433.0L575.3 455.6L582.8 470.7L589.0 474.5L594.0 477.7L600.4 468.0L606.7 464.0L613.0 465.7L620.5 477.0L625.5 477.7L635.6 487.8L645.6 487.0L650.7 488.8L658.0 483.0L665.7 477.0L673.0 478.7L680.8 482.0L685.8 475.7L695.9 458.0L703.4 444.0L711.0 440.5L717.0 431.8L722.0 421.7L731.0 419.0L738.6 416.7L751.0 413.4L766.0 415.0L775.0 411.0L780.0 411.0L792.6 412.7L801.4 409.4L807.7 402.0L814.0 402.0L819.0 403.0L824.0 388.0L830.0 370.5L837.8 358.0L845.4 348.0L855.4 327.8L865.5 307.7L875.5 293.9L883.0 281.3L885.6 276.0L890.6 260.8L898.0 245.7L905.7 237.0L913.0 233.0L920.8 225.0L928.0 223.6L935.8 215.6L945.9 211.8L953.4 205.5L961.0 200.5L968.5 193.0L976.0 181.7L984.3 172.4" stroke="#2f86dc" stroke-width="1.35" fill="none" stroke-linejoin="round"/>
<path d="M0.0 326.7L8.0 306.0L15.0 286.5L22.0 266.0L28.0 248.0L32.7 238.8L36.0 240.0L41.5 243.8L46.0 238.0L55.0 226.0L62.0 216.0L70.0 207.0L76.0 200.0L81.7 196.6L84.0 197.5L86.7 199.9L90.0 198.5L97.0 194.0L104.0 187.5L110.5 178.0L114.0 168.0L117.3 156.5L124.8 133.7L130.7 117.8L135.7 108.6L140.4 103.5L144.0 110.0L149.0 117.8L151.6 125.3L157.5 133.7L160.8 147.0L165.0 163.9L167.5 175.6L171.0 195.0L175.9 226.0L181.0 284.0L182.7 300.0L187.0 322.0L190.2 333.5L195.2 345.0L200.0 362.8L205.3 383.8L211.0 403.9L214.5 417.0L218.0 423.0L223.0 426.7L226.0 438.0L230.4 453.0L238.0 477.0L246.7 504.6L250.0 506.0L253.0 505.8L257.5 500.8L260.5 505.3L264.3 504.6L267.0 498.0L270.6 488.0L275.0 470.0L280.6 445.5L288.0 420.0L295.7 390.0L304.0 362.8L308.3 346.0L314.0 332.0L320.0 318.5L326.0 303.0L332.8 282.0L340.4 265.7L344.0 262.5L347.9 261.0L353.0 273.0L360.5 295.4L366.7 305.5L373.0 301.2L380.6 285.0L383.0 280.8L386.8 270.0L393.0 240.6L400.7 218.0L405.0 207.0L410.7 195.3L418.0 184.0L423.3 181.0L428.3 186.5L433.3 190.0L438.3 191.6L445.9 200.0L453.4 210.0L457.0 221.0L461.0 235.5L468.5 246.8L476.0 265.7L478.5 270.0L483.6 290.8L486.0 295.0L493.6 312.7L501.0 331.6L508.7 353.0L516.0 361.7L522.5 365.0L527.5 360.0L533.8 355.4L536.3 355.0L540.0 357.0L542.6 362.7L546.0 370.0L550.0 380.0L554.0 398.0L557.7 418.0L565.0 448.0L570.0 470.7L576.5 485.8L581.6 494.6L586.6 492.0L591.6 496.0L596.6 490.8L601.7 475.7L608.0 467.7L613.0 470.7L618.0 480.8L623.0 484.5L628.0 485.8L635.6 493.8L643.0 490.8L650.7 492.0L658.0 484.5L664.5 477.0L670.8 478.0L678.0 483.8L683.0 479.5L690.9 465.7L698.4 445.6L704.7 434.0L711.0 431.8L718.5 419.0L722.0 410.0L728.5 411.7L738.6 409.0L756.0 408.0L766.0 412.0L773.8 408.0L780.0 408.0L792.6 413.0L801.4 407.7L807.7 398.6L812.7 398.0L819.0 402.0L824.0 380.5L830.0 360.4L835.0 350.0L840.0 346.6L850.0 325.0L860.5 305.0L870.5 287.6L876.8 276.0L883.0 260.8L890.6 240.7L898.0 228.0L904.4 221.4L913.0 220.0L920.8 214.0L927.0 215.0L933.0 210.6L938.0 205.5L945.9 203.0L953.4 198.0L961.0 195.0L968.5 184.0L976.0 171.6L984.0 162.8" stroke="#d81e3c" stroke-width="1.4" fill="none" stroke-linejoin="round"/>
<path d="M1013.5 1V660.8M0 660.8H1014.3" stroke="#d4d7da" stroke-width="1.6" fill="none"/>
<path d="M33.4 660.8V665.3M81.7 660.8V665.3M124.9 660.8V665.3M172 660.8V665.3M218 660.8V665.3M263.4 660.8V665.3M312 660.8V665.3M356 660.8V665.3M402.2 660.8V665.3M451 660.8V665.3M493 660.8V665.3M537 660.8V665.3M583.2 660.8V665.3M629.2 660.8V665.3M674.5 660.8V665.3M722.2 660.8V665.3M766.9 660.8V665.3M813.2 660.8V665.3M861.5 660.8V665.3M903 660.8V665.3M952 660.8V665.3M998 660.8V665.3" stroke="#d4d7da" stroke-width="1.3" fill="none"/>
<path d="M1013.5 41.3h5M1013.5 164.7h5M1013.5 288.1h5M1013.5 411.4h5M1013.5 534.8h5M1013.5 658.2h5" stroke="#d4d7da" stroke-width="1.3" fill="none"/>
<path d="M1013.5 99.4L1023.5 103.0L1013.5 106.6Z" fill="#f2f2f2"/>
<text x="1025.8" y="108.9"  font-size="16.2" fill="#dfe3e6" stroke="#dfe3e6" textLength="25" lengthAdjust="spacingAndGlyphs">160</text>
<path d="M1013.5 222.8L1023.5 226.4L1013.5 230.0Z" fill="#f2f2f2"/>
<text x="1025.8" y="232.3"  font-size="16.2" fill="#dfe3e6" stroke="#dfe3e6" textLength="25" lengthAdjust="spacingAndGlyphs">155</text>
<path d="M1013.5 346.1L1023.5 349.8L1013.5 353.4Z" fill="#f2f2f2"/>
<text x="1025.8" y="355.6"  font-size="16.2" fill="#dfe3e6" stroke="#dfe3e6" textLength="25" lengthAdjust="spacingAndGlyphs">150</text>
<path d="M1013.5 469.5L1023.5 473.1L1013.5 476.7Z" fill="#f2f2f2"/>
<text x="1025.8" y="479.0"  font-size="16.2" fill="#dfe3e6" stroke="#dfe3e6" textLength="25" lengthAdjust="spacingAndGlyphs">145</text>
<path d="M1013.5 592.9L1023.5 596.5L1013.5 600.1Z" fill="#f2f2f2"/>
<text x="1025.8" y="602.4"  font-size="16.2" fill="#dfe3e6" stroke="#dfe3e6" textLength="25" lengthAdjust="spacingAndGlyphs">140</text>
<text x="90" y="679" font-size="16.2" fill="#dfe3e6" stroke="#dfe3e6" textLength="25.0" lengthAdjust="spacingAndGlyphs">Jun</text>
<text x="228" y="679" font-size="16.2" fill="#dfe3e6" stroke="#dfe3e6" textLength="26.3" lengthAdjust="spacingAndGlyphs">Sep</text>
<text x="366.2" y="679" font-size="16.2" fill="#dfe3e6" stroke="#dfe3e6" textLength="26.8" lengthAdjust="spacingAndGlyphs">Dec</text>
<text x="502.4" y="679" font-size="16.2" fill="#dfe3e6" stroke="#dfe3e6" textLength="25.1" lengthAdjust="spacingAndGlyphs">Mar</text>
<text x="638.5" y="679" font-size="16.2" fill="#dfe3e6" stroke="#dfe3e6" textLength="25.1" lengthAdjust="spacingAndGlyphs">Jun</text>
<text x="777" y="679" font-size="16.2" fill="#dfe3e6" stroke="#dfe3e6" textLength="25.6" lengthAdjust="spacingAndGlyphs">Sep</text>
<text x="914.3" y="679" font-size="16.2" fill="#dfe3e6" stroke="#dfe3e6" textLength="27.1" lengthAdjust="spacingAndGlyphs">Dec</text>
<text x="184" y="699" font-size="16.2" fill="#dfe3e6" stroke="#dfe3e6" textLength="32.6" lengthAdjust="spacingAndGlyphs">2024</text>
<text x="659.3" y="699" font-size="16.2" fill="#dfe3e6" stroke="#dfe3e6" textLength="33.5" lengthAdjust="spacingAndGlyphs">2025</text>
<text x="965.8" y="699" font-size="16.2" fill="#dfe3e6" stroke="#dfe3e6" textLength="33.9" lengthAdjust="spacingAndGlyphs">2026</text>
<path d="M402 682V703M952 682V703" stroke="#8e9296" stroke-width="1.3"/>
<rect x="522" y="1.5" width="326" height="78.5" rx="3.5" fill="#000" fill-opacity="0.2" stroke="#070a0c" stroke-width="1.8"/>
<rect x="543.8" y="13.4" width="15.2" height="15.2" fill="#ffffff"/>
<rect x="543.8" y="33.5" width="15.2" height="15.2" fill="#3a98ff"/>
<rect x="543.8" y="53.6" width="15.2" height="15.2" fill="#ff2342"/>
<g stroke="#8a8f94" stroke-width="1" fill="none"><rect x="531.9" y="16.6" width="7.8" height="8"/><path d="M533.8 20.6h4"/><path d="M535.7 24.8V62H540M535.7 41.2H540"/></g>
<text x="564.4" y="28.1" font-size="16.2" fill="#e8e6e2" stroke="#e8e6e2" textLength="55.3" lengthAdjust="spacingAndGlyphs">USDJPY</text>
<text x="626.4" y="28.1" font-size="16.2" fill="#e8e6e2" stroke="#e8e6e2" textLength="49.4" lengthAdjust="spacingAndGlyphs">Curncy</text>
<text x="684" y="28.1" font-size="16.2" fill="#e8e6e2" stroke="#e8e6e2" textLength="6.0" lengthAdjust="spacingAndGlyphs">-</text>
<text x="698" y="28.1" font-size="16.2" fill="#e8e6e2" stroke="#e8e6e2" textLength="39.8" lengthAdjust="spacingAndGlyphs">Las...</text>
<text x="747.3" y="28.1" font-size="16.2" fill="#e8e6e2" stroke="#e8e6e2" textLength="47.9" lengthAdjust="spacingAndGlyphs">158.63</text>
<text x="808" y="28.1" font-size="16.2" fill="#e8e6e2" stroke="#e8e6e2" textLength="30.2" lengthAdjust="spacingAndGlyphs">+.33</text>
<text x="564.4" y="48.6" font-size="16.2" fill="#e8e6e2" stroke="#e8e6e2" textLength="46.1" lengthAdjust="spacingAndGlyphs">EMAVG</text>
<text x="619.7" y="48.6" font-size="16.2" fill="#e8e6e2" stroke="#e8e6e2" textLength="31.8" lengthAdjust="spacingAndGlyphs">(30)</text>
<text x="664.9" y="48.6" font-size="16.2" fill="#e8e6e2" stroke="#e8e6e2" textLength="17.6" lengthAdjust="spacingAndGlyphs">on</text>
<text x="689.2" y="48.6" font-size="16.2" fill="#e8e6e2" stroke="#e8e6e2" textLength="39.4" lengthAdjust="spacingAndGlyphs">Close</text>
<text x="747.3" y="48.6" font-size="16.2" fill="#e8e6e2" stroke="#e8e6e2" textLength="47.9" lengthAdjust="spacingAndGlyphs">157.18</text>
<text x="564.4" y="68.7" font-size="16.2" fill="#e8e6e2" stroke="#e8e6e2" textLength="46.1" lengthAdjust="spacingAndGlyphs">EMAVG</text>
<text x="619.7" y="68.7" font-size="16.2" fill="#e8e6e2" stroke="#e8e6e2" textLength="31.8" lengthAdjust="spacingAndGlyphs">(21)</text>
<text x="664.9" y="68.7" font-size="16.2" fill="#e8e6e2" stroke="#e8e6e2" textLength="17.6" lengthAdjust="spacingAndGlyphs">on</text>
<text x="689.2" y="68.7" font-size="16.2" fill="#e8e6e2" stroke="#e8e6e2" textLength="39.4" lengthAdjust="spacingAndGlyphs">Close</text>
<text x="747.3" y="68.7" font-size="16.2" fill="#e8e6e2" stroke="#e8e6e2" textLength="47.9" lengthAdjust="spacingAndGlyphs">157.58</text>
<path d="M1015.4 136.8L1022.4 126.3H1077V147.3H1022.4Z" fill="#ffffff" stroke="#0a0c0e" stroke-width="1.2"/>
<text x="1025" y="142.7"  font-size="16.2" fill="#15181b" stroke="#15181b" textLength="47" lengthAdjust="spacingAndGlyphs">158.63</text>
<path d="M1015.4 162.7L1022.4 152.2H1077V173.2H1022.4Z" fill="#f2283f" stroke="#0a0c0e" stroke-width="1.2"/>
<text x="1025" y="168.6"  font-size="16.2" fill="#ffffff" stroke="#ffffff" textLength="47" lengthAdjust="spacingAndGlyphs">157.58</text>
<path d="M1015.4 172.6L1022.4 162.1H1077V183.1H1022.4Z" fill="#3590ec" stroke="#0a0c0e" stroke-width="1.2"/>
<text x="1025" y="178.5"  font-size="16.2" fill="#0c1014" stroke="#0c1014" textLength="47" lengthAdjust="spacingAndGlyphs">157.18</text>
</svg></body></html>
